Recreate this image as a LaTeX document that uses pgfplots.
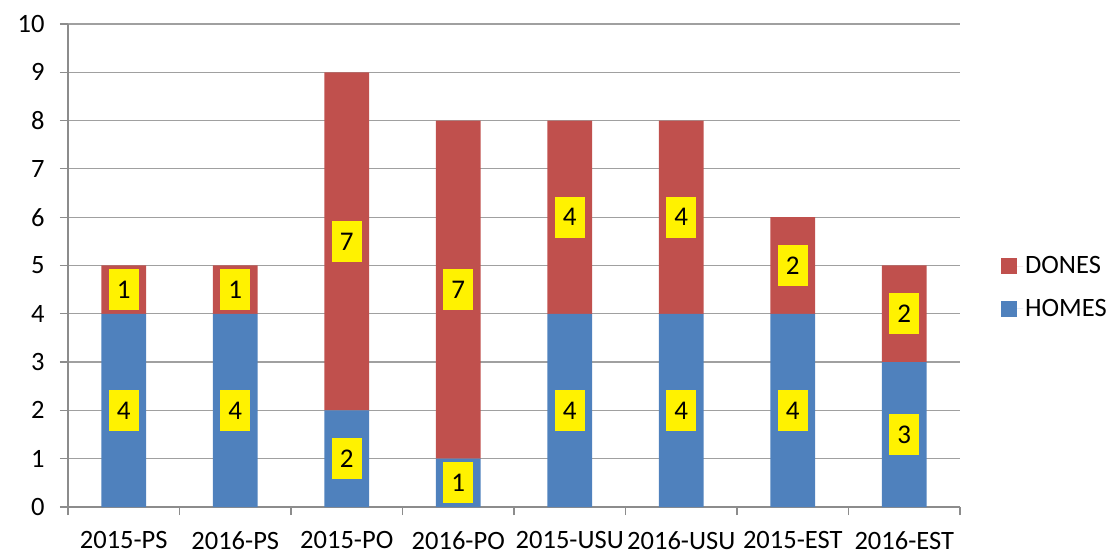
\documentclass[border=0pt]{standalone}
\usepackage{pgfplots}
\pgfplotsset{compat=1.18}
\usepackage{fontspec}
\setmainfont{Carlito}
\definecolor{homes}{HTML}{4F81BD}
\definecolor{dones}{HTML}{C0504D}
\definecolor{gridc}{HTML}{A0A0A0}
\definecolor{axc}{HTML}{8C8C8C}
\pgfplotsset{base/.style={
  width=892pt,height=483pt,scale only axis,
  at={(68pt,47pt)},anchor=south west,
  xmin=-0.5,xmax=7.5,ymin=0,ymax=10,
},
sqleg/.style={legend image code/.code={\fill[##1] (0pt,-8pt) rectangle (16pt,8pt);\path (0pt,0pt) -- (22pt,0pt);}}}
\begin{document}
\begin{tikzpicture}
\path[use as bounding box] (0,0) rectangle (1107pt,554pt);
\begin{axis}[base,
  ybar stacked, bar width=0.4,
  axis x line=bottom, axis y line=left,
  axis line style={axc, line width=1.2pt, -},
  xtick={-0.5,0.5,...,7.5},
  x tick label as interval,
  xticklabels={2015-PS,2016-PS,2015-PO,2016-PO,2015-USU,2016-USU,2015-EST,2016-EST},
  ytick={0,...,10},
  tick align=outside,
  major tick length=8pt,
  tick style={axc,line width=1.2pt},
  ymajorgrids, grid style={gridc,line width=1.2pt},
  xmajorgrids=false,
  tick label style={font=\fontsize{26.5}{30}\selectfont},
  xticklabel style={yshift=-13pt},
  yticklabel style={xshift=-12pt},
  /pgf/number format/assume math mode=true,
  legend style={at={(1.0425,0.4545)}, anchor=west, draw=none, fill=none,
    font=\fontsize{26.5}{30}\selectfont, row sep=20pt},
  reverse legend,
  legend cell align=left,
  sqleg,
]
\addplot[fill=homes, draw=none]
  coordinates {(0,4) (1,4) (2,2) (3,1) (4,4) (5,4) (6,4) (7,3)};
\addlegendentry{HOMES}
\addplot[fill=dones, draw=none]
  coordinates {(0,1) (1,1) (2,7) (3,7) (4,4) (5,4) (6,2) (7,2)};
\addlegendentry{DONES}
\end{axis}
\begin{axis}[base, hide axis, clip=false]
\addplot[draw=none, mark=none, nodes near coords, point meta=explicit symbolic,
  nodes near coords align={center},
  every node near coord/.append style={fill=yellow, text=black, inner sep=0pt,
    minimum width=30pt, minimum height=41pt, anchor=center,
    font=\fontsize{27}{30}\selectfont}]
  coordinates {
  (0,2) [4] (0,4.5) [1]
  (1,2) [4] (1,4.5) [1]
  (2,1) [2] (2,5.5) [7]
  (3,0.5) [1] (3,4.5) [7]
  (4,2) [4] (4,6) [4]
  (5,2) [4] (5,6) [4]
  (6,2) [4] (6,5) [2]
  (7,1.5) [3] (7,4) [2]
  };
\end{axis}
\end{tikzpicture}
\end{document}
